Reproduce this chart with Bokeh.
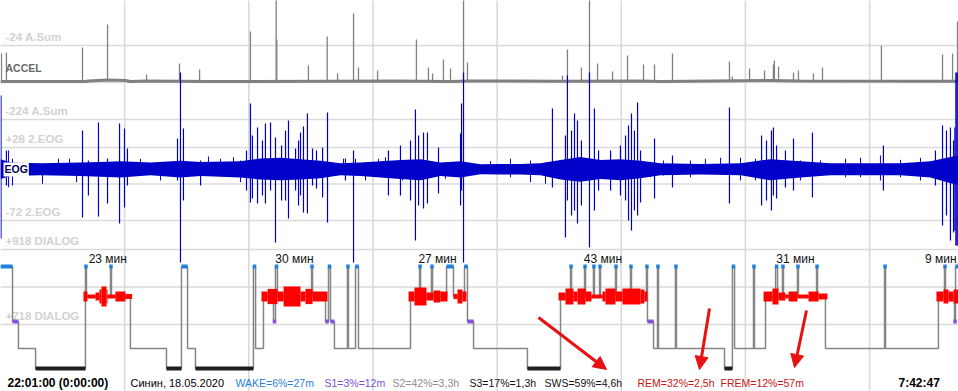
import numpy as np
from bokeh.plotting import figure
from bokeh.models import Range1d, Label, Arrow, NormalHead
from bokeh.core.properties import value
from bokeh.embed import file_html
from bokeh.resources import INLINE

# ---------------- data ----------------
T_END = 581.8  # minutes, 22:01:00 -> 7:42:47
grid_t = [75.4, 150.8, 226.2, 301.6, 377.0, 452.4, 527.8]

# ACCEL (A.Sum units)
accel_grid = [-24, -124, -224]
accel_base_t = [0, 51.6, 53.4, 65.0, 75.9, 78.9, 88.7, 127.5, 239.9, 273.3, 285.4, 340.1, 388.7, 400.8, 467.6, 485.8, 581.8]
accel_base_v = [-121.3, -121.3, -119.9, -117.2, -118.6, -121.3, -120.0, -121.3, -120.0, -121.3, -119.9, -120.6, -119.9, -121.3, -118.6, -119.9, -120.6]
accel_spike_t = [0.6, 3.6, 49.8, 65.0, 88.7, 108.7, 120.9, 151.8, 167.4, 167.8, 187.0, 198.4, 204.7, 214.4, 217.4,
                 229.0, 252.6, 259.9, 262.4, 269.0, 273.3, 281.2, 283.6, 341.3, 344.3, 352.8, 357.7, 362.6, 371.7,
                 380.8, 390.5, 397.2, 408.1, 442.7, 444.5, 454.9, 464.0, 469.4, 470.0, 472.5, 481.6, 484.6, 493.7,
                 499.2, 535.0, 572.1, 578.2, 581.2]
accel_spike_v = [-45.6, -42.9, -29.4, 32.8, -102.4, -72.7, -88.9, 13.8, 100.0, -7.8, -78.1, 0.3, -99.7, 62.5, -83.5,
                 -91.6, -7.8, -83.5, -99.7, -61.8, -86.2, 100.0, -70.0, -105.1, -34.8, -83.5, 100.0, -72.7, -94.3,
                 -51.0, -75.4, -75.4, -45.6, -67.2, -107.8, -86.2, -91.6, -75.4, -64.5, -80.8, -97.0, -91.6, -99.7,
                 -83.5, -24.0, -48.3, -45.6, 40.9]

# EOG (uV)
eog_grid = [28, -22, -72]
eog_env_t = [0, 6.1, 24.3, 48.6, 60.7, 72.9, 91.1, 109.3, 121.5, 145.8, 157.9, 170.0, 182.2, 194.3, 206.5, 218.6,
             230.8, 242.9, 255.1, 267.2, 279.4, 291.5, 303.7, 315.8, 327.9, 340.1, 352.2, 364.4, 376.5, 388.7,
             400.8, 425.1, 449.4, 467.6, 485.8, 504.1, 522.3, 546.6, 564.8, 576.9, 581.8]
eog_env_hi = [12, 7.5, 6.5, 7.5, 8, 9, 7.5, 10, 8, 9, 13, 14, 12, 10, 6.5, 7.5,
              9, 11, 12, 7.5, 9, 5, 5.5, 5.5, 6.5, 11, 15, 11, 12, 10,
              6.5, 5.5, 6.5, 12, 9, 6.5, 6.5, 6.5, 9, 15, 17]
eog_env_lo = [-15, -11, -10, -11, -12, -13, -10, -13, -11, -13, -16, -17, -16, -14, -10, -11,
              -13, -15, -17, -11, -13, -8.5, -9, -9, -10, -16, -19, -15, -17, -14,
              -10, -9, -10, -17, -13, -10, -10, -10, -13, -21, -23]
eog_spike_t = [0.3, 3.6, 49.8, 53.4, 59.5, 65.0, 72.3, 75.3, 77.1, 107.5, 109.3, 111.1, 121.5, 149.4, 151.8, 153.0,
               156.1, 159.1, 160.9, 164.0, 167.0, 170.7, 173.1, 174.9, 179.2, 181.0, 182.2, 184.0, 186.4, 189.5,
               191.9, 195.6, 198.6, 209.5, 214.4, 235.6, 242.9, 249.0, 252.0, 253.9, 256.9, 259.3, 266.0, 279.4,
               280.0, 281.2, 335.2, 343.1, 344.3, 346.8, 348.6, 350.4, 352.8, 357.7, 360.7, 363.2, 370.5, 376.5,
               379.6, 381.4, 383.2, 385.0, 386.9, 388.7, 397.2, 408.1, 442.7, 462.2, 465.2, 468.2, 469.4, 471.3,
               476.7, 481.6, 493.1, 536.2, 567.8, 572.1, 574.5, 576.9, 578.8, 579.6, 580.2, 580.8, 581.4]
eog_spike_hi = [99.2, 23.9, 51.3, 10.2, 62.3, 12.9, 60.9, 54.0, 26.6, 40.3, 130.8, 54.0, 10.2, 23.9, 88.3, 44.4,
                55.4, 37.6, 60.9, 62.3, 41.7, 30.7, 51.3, 65.0, 26.6, 37.6, 48.6, 56.8, 74.6, 26.6,
                23.9, 28.0, 76.0, 12.9, 23.9, 23.9, 30.7, 37.6, 80.1, 44.4, 48.6, 48.6, 28.0, 47.2,
                88.3, 130.8, 81.4, 44.4, 126.6, 51.3, 74.6, 65.0, 37.6, 130.8, 81.4, 23.9, 23.9, 30.7,
                44.4, 58.1, 74.6, 51.3, 89.7, 23.9, 40.3, 17.0, 82.8, 44.4, 37.6, 51.3, 55.4, 30.7,
                23.9, 40.3, 48.6, 30.7, 23.9, 58.1, 51.3, 55.4, 37.6, 55.4, 130.8, 130.8, 130.8]
eog_spike_lo = [-96.7, -24.1, -67.9, -37.8, -66.5, -48.7, -76.1, -54.2, -24.1, -17.2, -129.6, -44.6, -24.1, -30.9,
                -47.4, -41.9, -48.7, -37.8, -48.7, -30.9, -102.2, -44.6, -44.6, -69.3, -30.9, -51.5, -37.8, -61.1,
                -62.4, -24.1, -28.2, -40.5, -74.8, -17.2, -129.6, -37.8, -37.8, -44.6, -99.4, -51.5, -55.6, -48.7,
                -35.0, -51.5, -30.9, -129.6, -26.8, -95.3, -44.6, -65.2, -58.3, -76.1, -51.5, -109.0, -58.3, -30.9,
                -30.9, -37.8, -44.6, -72.0, -85.7, -58.3, -65.2, -47.4, -41.9, -26.8, -48.7, -51.5, -44.6, -58.3,
                -37.8, -41.9, -26.8, -30.9, -40.5, -30.9, -24.1, -78.9, -65.2, -99.4, -88.5, -85.7, -106.3, -106.3,
                -106.3]
# minor EOG deflections (band texture)
eog_minor_t = [4.9, 7.3, 25.5, 35.2, 41.9, 46.2, 85.0, 97.2, 126.3, 133.6, 141.5, 145.8, 208.3, 215.6, 221.7,
               229.6, 233.8, 244.1, 270.2, 297.6, 309.7, 321.9, 331.0, 394.7, 402.6, 419.0, 428.1, 437.3, 449.4,
               458.5, 485.8, 498.0, 513.2, 522.3, 534.4, 546.6, 558.7]
eog_minor_hi = [23.9, 12.5, 5.0, 12.5, 12.5, 5.0, 12.5, 5.0, 15.7, 12.5, 14.7, 10.2, 12.5, 12.5, 5.0,
                12.5, 14.7, 10.2, 7.9, 9.3, 12.5, 10.2, 7.9, 7.9, 10.2, 10.2, 12.5, 13.9, 13.9,
                12.5, 10.2, 10.2, 12.5, 13.9, 17.0, 11.1, 13.9]
eog_minor_lo = [-26.4, -24.1, -21.7, -8.0, -8.0, -19.5, -8.0, -17.2, -8.0, -8.0, -8.0, -19.5, -8.0, -8.0, -17.2,
                -8.0, -8.0, -17.2, -14.9, -8.0, -12.7, -19.5, -21.7, -12.7, -10.4, -12.7, -8.0, -8.0, -17.2,
                -17.2, -17.2, -8.0, -12.7, -12.7, -17.2, -12.7, -17.2]

# DIALOG channel scale
dialog_grid = [918, 818, 718]

# Hypnogram (start minute of each stage run)
hyp_t = [0, 7.3, 10.9, 21.3, 51.6, 52.2, 66.8, 67.4, 78.9, 100.8, 109.9, 113.6, 118.4, 153.6, 154.9, 159.7,
         165.8, 167.0, 168.2, 188.9, 189.5, 197.4, 199.2, 200.4, 202.8, 210.7, 211.3, 215.6, 217.4, 249.0,
         254.5, 255.1, 261.7, 262.4, 270.9, 275.1, 281.8, 283.6, 287.3, 320.0, 340.1, 346.2, 346.8, 354.7,
         355.3, 360.1, 360.7, 363.8, 364.4, 373.5, 374.1, 382.6, 383.2, 392.3, 392.9, 396.6, 399.0, 399.6,
         409.9, 410.5, 439.7, 444.5, 445.8, 457.3, 457.9, 464.6, 470.7, 471.9, 474.9, 475.5, 484.0, 484.6,
         495.6, 496.2, 501.0, 536.9, 537.5, 569.6, 573.3, 573.9, 579.4, 580.0]
hyp_stage = ["W", "S1", "S2", "S3", "W", "REM", "W", "REM", "S2", "S3", "W", "S2", "S3", "W", "S2", "REM",
             "S1", "W", "REM", "W", "REM", "S1", "W", "S1", "S2", "W", "S2", "W", "S2", "REM",
             "W", "REM", "W", "REM", "W", "REM", "W", "S1", "S2", "S3", "REM", "W", "REM", "W",
             "REM", "W", "REM", "W", "REM", "W", "REM", "W", "REM", "W", "S1", "S2", "W", "S2",
             "W", "S2", "S3", "W", "S2", "W", "S2", "REM", "W", "REM", "W", "REM", "W", "REM",
             "W", "REM", "S2", "W", "S2", "REM", "W", "REM", "S1", "W"]

# REM eye-movement density blocks
rem_t0 = [50.4, 52.8, 57.7, 60.1, 61.3, 64.4, 65.0, 69.8, 75.9,
          158.5, 162.2, 168.2, 171.9, 182.2, 185.2, 189.5,
          247.8, 251.4, 258.7, 263.0, 267.2, 275.1, 277.5, 280.6,
          338.9, 343.1, 348.0, 350.4, 355.3, 358.9, 365.6, 367.4, 373.5, 377.7, 388.7, 391.1,
          463.4, 468.8, 472.5, 476.7, 478.6, 484.0, 490.7, 496.8,
          568.4, 572.7, 575.7, 578.8]
rem_t1 = [52.8, 57.7, 60.1, 61.3, 64.4, 65.0, 69.8, 75.9, 79.9,
          162.2, 168.2, 171.9, 182.2, 185.2, 189.5, 198.6,
          251.4, 258.7, 263.0, 267.2, 271.5, 277.5, 280.6, 283.0,
          343.1, 348.0, 350.4, 355.3, 358.9, 365.6, 367.4, 373.5, 377.7, 388.7, 391.1, 392.9,
          468.8, 472.5, 476.7, 478.6, 484.0, 490.7, 496.8, 502.2,
          572.7, 575.7, 578.8, 581.8]
rem_density = [2.5, 1, 2, 3.5, 5, 3.5, 1, 2.5, 1.3,
               2.5, 3.8, 2.5, 5, 2.5, 3.8, 2.5,
               2.5, 4.5, 2, 3, 2.5, 1.3, 3.5, 2.5,
               2, 4, 2.5, 4, 2.5, 1, 2.5, 4, 2.5, 4, 3.5, 2.5,
               2.5, 4, 2, 1, 2.5, 1, 2.5, 1.5,
               2.5, 3.5, 2.5, 3.5]
rem_period_t0 = [50.4, 158.5, 247.8, 338.9, 463.4, 568.4]
rem_period_t1 = [79.9, 198.6, 283.0, 392.9, 502.2, 581.8]
rem_period_min = [23, 30, 27, 43, 31, 9]

start_label = "22:01:00 (0:00:00)"
end_label = "7:42:47"
patient_label = "Синин, 18.05.2020"
stat_text = ["WAKE=6%=27m", "S1=3%=12m", "S2=42%=3,3h", "S3=17%=1,3h", "SWS=59%=4,6h", "REM=32%=2,5h", "FREM=12%=57m"]
stat_color = ["#2a7fd6", "#7a50d0", "#8c8c8c", "#111111", "#111111", "#c81414", "#c81414"]

assert len(hyp_t) == len(hyp_stage)
assert len(rem_t0) == len(rem_t1) == len(rem_density)
assert len(eog_spike_t) == len(eog_spike_hi) == len(eog_spike_lo)
assert len(eog_minor_t) == len(eog_minor_hi) == len(eog_minor_lo)
assert len(accel_spike_t) == len(accel_spike_v)

# ---------------- layout / style ----------------
FONT = value("Liberation Sans")
STAGE_Y = {"W": 266, "REM": 296, "S1": 321, "S2": 348, "S3": 368}
GRID_C = "#dadada"

p = figure(width=958, height=391, x_range=Range1d(0, T_END), y_range=Range1d(391, 0),
           x_axis_type=None, y_axis_type=None, output_backend="svg", toolbar_location=None,
           min_border=0, outline_line_color=None, background_fill_color="white",
           border_fill_color="white")
p.extra_x_ranges = {"sx": Range1d(0, 958)}
p.extra_y_ranges = {"accel": Range1d(-959.1, 97.6), "eog": Range1d(-306.3, 229.4),
                    "dialog": Range1d(539.3, 1582.0)}

# grid
p.segment(x0=grid_t, x1=grid_t, y0=[0] * len(grid_t), y1=[391] * len(grid_t), line_color=GRID_C, line_width=1.6)
for rng, vals in (("accel", accel_grid), ("eog", eog_grid), ("dialog", dialog_grid)):
    p.segment(x0=[0] * 3, x1=[T_END] * 3, y0=vals, y1=vals, line_color=GRID_C, line_width=1.6, y_range_name=rng)

# scale labels
scale_txt = ["-24 A.Sum", "-224 A.Sum"], ["+28 2.EOG", "-72 2.EOG"], ["+918 DIALOG", "+718 DIALOG"]
for rng, vals, txt in (("accel", accel_grid, scale_txt[0]), ("eog", eog_grid, scale_txt[1]),
                       ("dialog", dialog_grid, scale_txt[2])):
    p.text(x=[5, 5], y=[vals[0], vals[2]], text=txt, x_range_name="sx", y_range_name=rng,
           text_font=FONT, text_font_size="11.5px", text_font_style="bold", text_color="#d2d2d2",
           text_baseline="middle", y_offset=-8)

# ACCEL trace
GR = "#808080"
base_at_spike = np.interp(accel_spike_t, accel_base_t, accel_base_v)
p.segment(x0=accel_spike_t, x1=accel_spike_t, y0=base_at_spike, y1=accel_spike_v, line_color=GR,
          line_width=1.3, y_range_name="accel")
p.line(accel_base_t, accel_base_v, line_color=GR, line_width=3, y_range_name="accel")
p.text(x=[5], y=[accel_base_v[0]], text=["ACCEL"], x_range_name="sx", y_range_name="accel",
       text_font=FONT, text_font_size="10.5px", text_font_style="bold", text_color="#6a6a6a",
       text_baseline="middle", y_offset=-13)

# EOG trace
BL = "#0000c8"
p.varea(x=eog_env_t, y1=eog_env_lo, y2=eog_env_hi, fill_color=BL, y_range_name="eog")
p.segment(x0=eog_minor_t, x1=eog_minor_t, y0=eog_minor_lo, y1=eog_minor_hi, line_color=BL, line_width=1.0,
          y_range_name="eog")
p.segment(x0=eog_spike_t, x1=eog_spike_t, y0=eog_spike_lo, y1=eog_spike_hi, line_color=BL, line_width=1.2,
          y_range_name="eog")
p.add_layout(Label(x=3, y=-2, text="EOG", x_range_name="sx", y_range_name="eog", text_font="Liberation Sans",
                   text_font_size="10.5px", text_font_style="bold", text_color="#000050",
                   text_baseline="middle", background_fill_color="white", padding=1))

# hypnogram
ht = np.array(hyp_t + [T_END])
rows = np.array([STAGE_Y[s] for s in hyp_stage], dtype=float)
xs = np.repeat(ht, 2)[1:-1]
ys = np.repeat(rows, 2)
p.line(xs, ys, line_color="#858585", line_width=1.5)

stages = np.array(hyp_stage)
t0, t1 = ht[:-1], ht[1:]


def bars(stage, min_w):
    m = stages == stage
    a, b = t0[m], t1[m]
    c = (a + b) / 2
    w = np.maximum(b - a, min_w)
    return c - w / 2, c + w / 2


for st, col, h in (("S3", "#1e1e1e", 4), ("S1", "#8552e0", 4), ("W", "#2080e0", 4)):
    l, r = bars(st, 2.1)
    y = STAGE_Y[st]
    p.quad(left=l, right=r, top=y - h / 2, bottom=y + h / 2, fill_color=col, line_color=None)

dens = np.array(rem_density)
p.quad(left=rem_t0, right=rem_t1, top=STAGE_Y["REM"] - 2 * dens, bottom=STAGE_Y["REM"] + 2 * dens,
       fill_color="#ff0000", line_color=None)

cent = np.minimum((np.array(rem_period_t0) + np.array(rem_period_t1)) / 2, 571.0)
p.text(x=cent, y=[258] * len(cent), text=[f"{m} мин" for m in rem_period_min], text_font=FONT,
       text_font_size="12px", text_color="#111111", text_align="center", text_baseline="middle")

# arrows
arrow_x0 = [538, 709, 806]
arrow_y0 = [317, 308, 310]
arrow_x1 = [606, 699, 794]
arrow_y1 = [369, 369, 367]
for a, b, c, d in zip(arrow_x0, arrow_y0, arrow_x1, arrow_y1):
    p.add_layout(Arrow(x_start=a, y_start=b, x_end=c, y_end=d, x_range_name="sx", line_color="#e81010",
                       line_width=3, end=NormalHead(size=13, fill_color="#e81010", line_color="#e81010")))

# footer
p.text(x=[7, 898], y=[382, 382], text=[start_label, end_label], x_range_name="sx", text_font=FONT,
       text_font_size="12px", text_font_style="bold", text_color="#000000", text_baseline="middle")
p.text(x=[130], y=[382], text=[patient_label], x_range_name="sx", text_font=FONT, text_font_size="11px",
       text_color="#000000", text_baseline="middle")
stat_x = [235, 324, 392, 469, 544, 637, 720]
p.text(x=stat_x, y=[382] * len(stat_x), text=stat_text, x_range_name="sx", text_font=FONT,
       text_font_size="10.5px", text_color=stat_color, text_baseline="middle")

open("out.html", "w").write(file_html(p, INLINE))
